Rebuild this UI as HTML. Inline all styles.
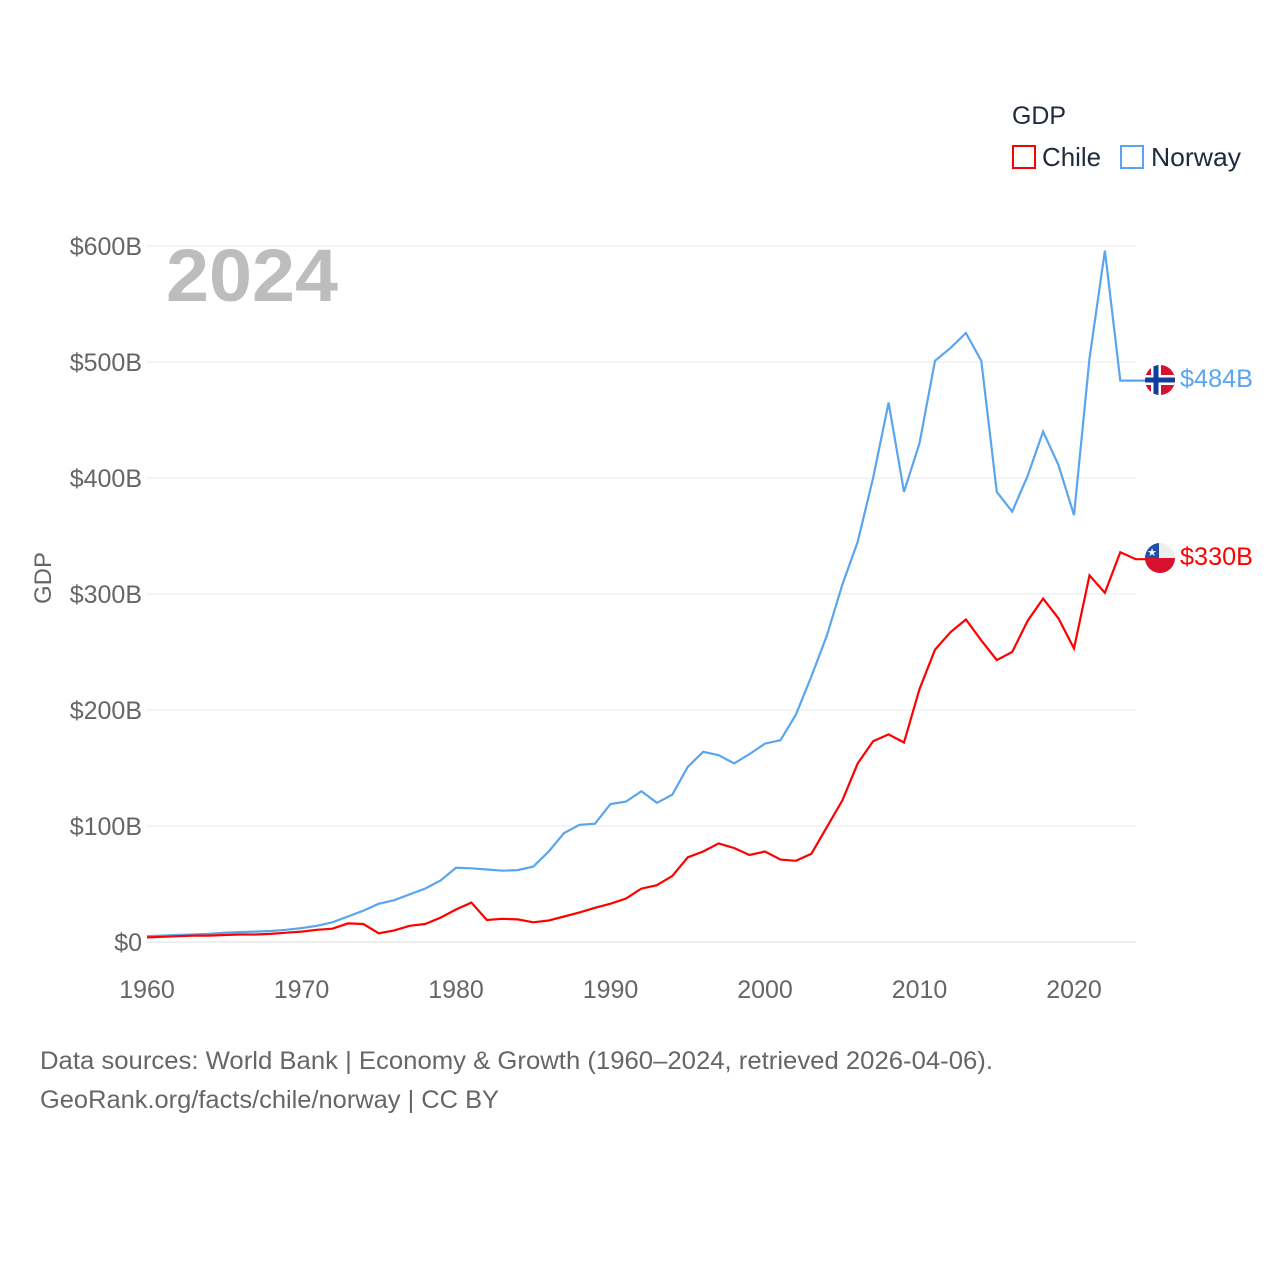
<!DOCTYPE html>
<html><head><meta charset="utf-8">
<style>
html,body{margin:0;padding:0;background:#fff;}
svg text{font-family:"Liberation Sans",sans-serif;}
</style></head>
<body>
<svg id="chart" width="1280" height="1280" viewBox="0 0 1280 1280" xmlns="http://www.w3.org/2000/svg">
<defs>
<clipPath id="cNo"><circle cx="1160" cy="380" r="15"/></clipPath>
<clipPath id="cCl"><circle cx="1160" cy="558" r="15"/></clipPath>
</defs>
<g id="grid"></g>
<g id="yticks"></g>
<g id="xticks"></g>
<text x="166" y="301" font-size="74" font-weight="bold" fill="#bdbdbd" textLength="172" lengthAdjust="spacingAndGlyphs">2024</text>
<text transform="translate(51,578) rotate(-90)" text-anchor="middle" font-size="24" fill="#666">GDP</text>
<g id="series"></g>
<g>
<text x="1012" y="124" font-size="25" fill="#1f2a3c" textLength="54" lengthAdjust="spacingAndGlyphs">GDP</text>
<g>
<rect x="1013" y="146" width="22" height="22" fill="none" stroke="#ff0000" stroke-width="2"/>
<text x="1042" y="166" font-size="26" fill="#1f2a3c" textLength="59" lengthAdjust="spacingAndGlyphs">Chile</text></g>
<g>
<rect x="1121" y="146" width="22" height="22" fill="none" stroke="#5aa5ee" stroke-width="2"/>
<text x="1151" y="166" font-size="26" fill="#1f2a3c" textLength="90" lengthAdjust="spacingAndGlyphs">Norway</text></g>
</g>
<g clip-path="url(#cNo)">
<rect x="1145" y="365" width="30" height="30" fill="#d8112f"/>
<rect x="1145" y="375" width="30" height="10" fill="#fff"/>
<rect x="1151" y="365" width="10" height="30" fill="#fff"/>
<rect x="1145" y="377.5" width="30" height="5" fill="#103c9c"/>
<rect x="1153.5" y="365" width="5" height="30" fill="#103c9c"/>
</g>
<g clip-path="url(#cCl)">
<rect x="1145" y="543" width="30" height="15" fill="#eee"/>
<rect x="1145" y="558" width="30" height="15" fill="#d8112f"/>
<rect x="1145" y="543" width="14" height="15" fill="#1f4fa8"/>
<text x="1152" y="556" font-size="11" fill="#fff" text-anchor="middle">★</text>
</g>
<text x="1180" y="387" font-size="25" fill="#5aa5ee" textLength="73" lengthAdjust="spacingAndGlyphs">$484B</text>
<text x="1180" y="565" font-size="25" fill="#ff0000" textLength="73" lengthAdjust="spacingAndGlyphs">$330B</text>
<text x="40" y="1069" font-size="25" fill="#666" textLength="953" lengthAdjust="spacingAndGlyphs">Data sources: World Bank | Economy &amp; Growth (1960–2024, retrieved 2026-04-06).</text>
<text x="40" y="1108" font-size="25" fill="#666" textLength="459" lengthAdjust="spacingAndGlyphs">GeoRank.org/facts/chile/norway | CC BY</text>
</svg>
<script>
const startYear = 1960;
const norway = [5,5.5,6,6.5,7,8,8.5,9,9.5,10.5,12,14,17,22,27,33,36,41,46,53,64,63.5,62.5,61.5,62,65,78,94,101,102,119,121,130,120,127,151,164,161,154,162,171,174,196,229,264,308,345,400,465,388,430,501,512,525,501,388,371,402,440,411,368,503,596,484,484];
const chile = [4,4.5,5,5.5,5.5,6,6.5,6.5,7,8,9,10.5,11.5,16,15.5,7.5,10,14,15.5,21,28,34,19,20,19.5,17,18.5,22,25.5,29.5,33,37.5,46,49,57,73,78,85,81,75,78,71,70,76,99,122,154,173,179,172,218,252,267,278,260,243,250,277,296,279,253,316,301,336,330];
const yTicks = [0,100,200,300,400,500,600];
const yTickLabels = ["$0","$100B","$200B","$300B","$400B","$500B","$600B"];
const xTicks = [1960,1970,1980,1990,2000,2010,2020];

const NS="http://www.w3.org/2000/svg";
const x = yr => 147 + (yr-1960)*(1074-147)/60;
const y = v => 942 - v*(942-246)/600;
const grid=document.getElementById('grid'), yt=document.getElementById('yticks'), xt=document.getElementById('xticks'), ser=document.getElementById('series');
yTicks.forEach((t,i)=>{
  const l=document.createElementNS(NS,'line');
  l.setAttribute('x1',147);l.setAttribute('x2',1136);l.setAttribute('y1',y(t));l.setAttribute('y2',y(t));
  l.setAttribute('stroke',t===0?'#ddd':'#eaeaea');l.setAttribute('stroke-width',1);
  
  
  grid.appendChild(l);
  const tx=document.createElementNS(NS,'text');
  tx.setAttribute('x',142);tx.setAttribute('y',y(t)+9);tx.setAttribute('text-anchor','end');
  tx.setAttribute('font-size','25');tx.setAttribute('fill','#666');tx.textContent=yTickLabels[i];
  
  
  yt.appendChild(tx);
});
xTicks.forEach(t=>{
  const tx=document.createElementNS(NS,'text');
  tx.setAttribute('x',x(t));tx.setAttribute('y',998);tx.setAttribute('text-anchor','middle');
  tx.setAttribute('font-size','25');tx.setAttribute('fill','#666');tx.textContent=t;
  
  
  xt.appendChild(tx);
});
function line(data,color,name,endX){
  let d=data.map((v,i)=>(i?'L':'M')+x(startYear+i).toFixed(1)+','+y(v).toFixed(1)).join('');
  d+='L'+endX+','+y(data[data.length-1]).toFixed(1);
  const p=document.createElementNS(NS,'path');
  p.setAttribute('d',d);p.setAttribute('fill','none');p.setAttribute('stroke',color);p.setAttribute('stroke-width',2.2);
  
  
  ser.appendChild(p);
}
line(norway,'#5aa5ee','norway-line',1146);
line(chile,'#ff0000','chile-line',1146);
</script>
</body></html>
